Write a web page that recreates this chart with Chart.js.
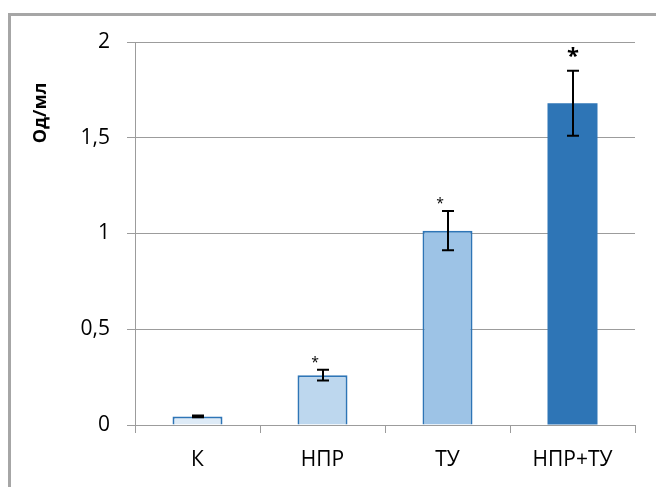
<!DOCTYPE html>
<html>
<head>
<meta charset="utf-8">
<script src="https://cdn.jsdelivr.net/npm/chart.js@4/dist/chart.umd.min.js"></script>
<style>
  html, body { margin: 0; padding: 0; background: #fff; }
  #wrap { width: 656px; height: 487px; position: relative; }
</style>
</head>
<body>
<div id="wrap"><canvas id="c" width="656" height="487"></canvas></div>
<script>
// Groups and measured optical density (OD/ml)
const categories = ['К', 'НПР', 'ТУ', 'НПР+ТУ'];
const values = [0.045, 0.26, 1.015, 1.68];
const errors = [0.004, 0.028, 0.103, 0.17];
const significance = ['', '*', '*', '*'];
const yTicks = [0, 0.5, 1, 1.5, 2];

const FONT = '"Open Sans", "Noto Sans", sans-serif';
const fills = ['#DEEBF7', '#BDD7EE', '#9DC3E6', '#2E75B6'];
const borders = [2, 2, 2, 0];
const GRID = '#9C9C9C';

// Outer frame of the chart
const framePlugin = {
  id: 'frame',
  beforeDraw(chart) {
    const ctx = chart.ctx;
    ctx.save();
    ctx.fillStyle = '#fff';
    ctx.fillRect(0, 0, chart.width, chart.height);
    ctx.strokeStyle = '#A6A6A6';
    ctx.lineWidth = 3;
    ctx.beginPath();
    ctx.moveTo(9.5, chart.height + 2);
    ctx.lineTo(9.5, 14.5);
    ctx.lineTo(chart.width + 2, 14.5);
    ctx.stroke();
    ctx.restore();
  }
};

// Error bars and significance marks
const errorPlugin = {
  id: 'errorBars',
  afterDatasetsDraw(chart) {
    const ctx = chart.ctx;
    const y = chart.scales.y;
    const meta = chart.getDatasetMeta(0);
    ctx.save();
    meta.data.forEach((bar, i) => {
      const x = Math.round(bar.x);
      const top = y.getPixelForValue(values[i] + errors[i]);
      const bot = y.getPixelForValue(values[i] - errors[i]);
      ctx.strokeStyle = '#000';
      ctx.lineWidth = 2;
      ctx.beginPath();
      ctx.moveTo(x, top); ctx.lineTo(x, bot);
      ctx.moveTo(x - 6, top); ctx.lineTo(x + 6, top);
      ctx.moveTo(x - 6, bot); ctx.lineTo(x + 6, bot);
      ctx.stroke();
      if (significance[i]) {
        const big = i === categories.length - 1;
        ctx.fillStyle = '#000';
        ctx.textAlign = 'center';
        ctx.textBaseline = 'alphabetic';
        ctx.font = big ? 'bold 22px ' + FONT : '14px ' + FONT;
        const dx = big ? 0 : -8;
        ctx.fillText(significance[i], x + dx, top - (big ? 8 : 3));
      }
    });
    ctx.restore();
  }
};

// Rotated axis title
const yTitlePlugin = {
  id: 'yTitle',
  afterDraw(chart) {
    const ctx = chart.ctx;
    ctx.save();
    ctx.translate(41, 113);
    ctx.rotate(-Math.PI / 2);
    ctx.font = 'bold 18px ' + FONT;
    ctx.fillStyle = '#000';
    ctx.textAlign = 'center';
    ctx.textBaseline = 'middle';
    ctx.fillText('Од/мл', 0, 0);
    ctx.restore();
  }
};

new Chart(document.getElementById('c'), {
  type: 'bar',
  data: {
    labels: categories,
    datasets: [{
      data: values,
      backgroundColor: fills,
      borderColor: '#2E75B6',
      borderWidth: borders,
      categoryPercentage: 1,
      barPercentage: 0.4
    }]
  },
  options: {
    responsive: false,
    animation: false,
    devicePixelRatio: 1,
    layout: { padding: { top: 42, right: 21, left: 0, bottom: 0 } },
    plugins: { legend: { display: false }, tooltip: { enabled: false } },
    scales: {
      x: {
        grid: { display: true, offset: true, drawOnChartArea: false, color: GRID, tickLength: 8 },
        border: { display: true, color: GRID, width: 1 },
        ticks: { color: '#000', font: { family: FONT, size: 21 }, padding: 14, maxRotation: 0 },
        afterFit(s) { s.height = 62; }
      },
      y: {
        min: 0, max: 2,
        afterBuildTicks(s) { s.ticks = yTicks.map(v => ({ value: v })); },
        grid: { color: GRID, tickLength: 8, lineWidth: 1 },
        border: { display: true, color: GRID, width: 1 },
        ticks: {
          color: '#000', font: { family: FONT, size: 21 }, padding: 17,
          callback: v => String(v).replace('.', ',')
        },
        afterFit(s) { s.width = 135; }
      }
    }
  },
  plugins: [framePlugin, errorPlugin, yTitlePlugin]
});
</script>
</body>
</html>
